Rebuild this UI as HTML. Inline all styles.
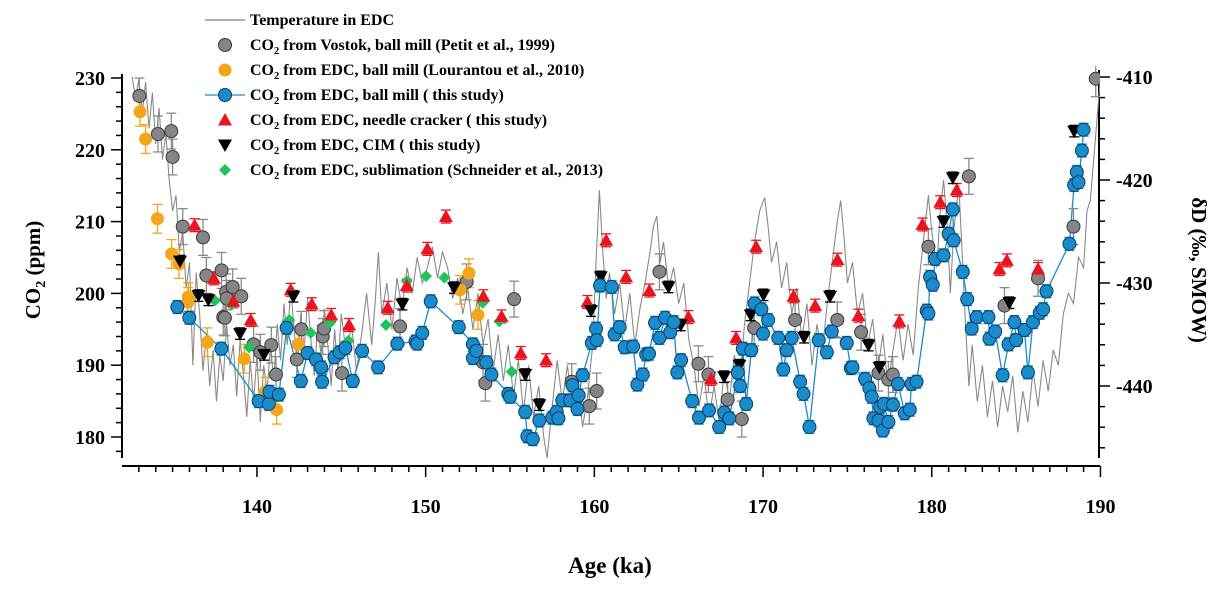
<!DOCTYPE html>
<html><head><meta charset="utf-8"><style>
html,body{margin:0;padding:0;background:#fff;}
svg{display:block;font-family:"Liberation Serif",serif;font-weight:bold;}
</style></head><body>
<svg id="chart" width="1228" height="589" viewBox="0 0 1228 589" xmlns="http://www.w3.org/2000/svg">
<defs><clipPath id="plotclip"><rect x="122" y="66" width="978" height="400"/></clipPath></defs>
<g id="axes"></g>
<g id="marks" clip-path="url(#plotclip)"></g>
<g id="legend"></g>
<text x="610" y="573" font-size="23" text-anchor="middle">Age (ka)</text>
<text transform="translate(40,270) rotate(-90)" font-size="21" text-anchor="middle">CO<tspan font-size="14" dy="5">2</tspan><tspan dy="-5"> (ppm)</tspan></text>
<text transform="translate(1192,270) rotate(90)" font-size="21" text-anchor="middle">δD (‰, SMOW)</text>
</svg>
<script>
const tempAge=[132.6,132.8,133.0,133.2,133.4,133.6,133.8,134.0,134.2,134.4,134.6,134.8,135.0,135.2,135.4,135.6,135.8,136.0,136.2,136.4,136.6,136.8,137.0,137.2,137.4,137.6,137.8,138.0,138.2,138.4,138.6,138.8,139.0,139.2,139.4,139.6,139.8,140.0,140.2,140.4,140.6,140.8,141.0,141.2,141.4,141.6,141.8,142.0,142.2,142.4,142.6,142.8,143.0,143.2,143.4,143.6,143.8,144.0,144.2,144.4,144.6,144.8,145.0,145.3,145.6,145.9,146.2,146.5,146.8,147.0,147.2,147.4,147.7,148.0,148.3,148.6,148.9,149.2,149.5,149.8,150.1,150.4,150.7,151.0,151.3,151.6,151.9,152.2,152.5,152.8,153.1,153.4,153.7,154.0,154.3,154.6,154.9,155.2,155.5,155.8,156.1,156.4,156.7,157.0,157.2,157.5,157.8,158.1,158.4,158.7,159.0,159.3,159.6,159.9,160.1,160.3,160.5,160.7,160.9,161.2,161.5,161.8,162.1,162.4,162.7,163.0,163.3,163.5,163.7,163.9,164.1,164.4,164.7,165.0,165.3,165.6,165.9,166.2,166.5,166.8,167.1,167.4,167.7,168.0,168.3,168.6,168.9,169.2,169.5,169.8,170.1,170.3,170.5,170.8,171.1,171.4,171.7,172.0,172.3,172.6,172.9,173.2,173.5,173.8,174.1,174.4,174.6,174.8,175.0,175.3,175.6,175.9,176.2,176.5,176.8,177.1,177.4,177.7,178.0,178.3,178.6,178.9,179.2,179.5,179.8,180.0,180.3,180.5,180.7,180.9,181.1,181.3,181.6,181.8,182.0,182.2,182.4,182.7,183.0,183.3,183.6,183.9,184.2,184.5,184.8,185.1,185.4,185.7,186.0,186.3,186.6,186.9,187.2,187.5,187.8,188.1,188.4,188.7,189.0,189.2,189.4,189.6,189.8,190.0];
const tempDD=[-410.0,-412.0,-410.2,-413.5,-410.5,-415.0,-411.5,-416.5,-413.0,-418.0,-415.5,-420.0,-423.0,-421.5,-427.0,-425.0,-430.5,-428.0,-438.0,-429.0,-433.0,-438.5,-435.0,-440.0,-436.5,-441.5,-437.0,-439.5,-434.0,-438.0,-436.0,-441.0,-435.5,-439.0,-443.0,-437.5,-441.5,-437.0,-443.5,-438.0,-440.5,-436.0,-439.5,-434.0,-437.5,-432.0,-436.0,-430.5,-434.5,-438.0,-433.0,-436.5,-431.5,-435.5,-439.0,-434.0,-437.0,-432.5,-436.0,-440.0,-434.5,-438.5,-433.0,-437.0,-434.0,-438.5,-435.0,-431.0,-436.0,-432.0,-427.0,-433.0,-430.0,-434.5,-429.5,-432.5,-428.5,-431.0,-427.5,-430.0,-428.5,-426.5,-429.5,-427.0,-428.5,-431.5,-429.5,-433.0,-430.5,-434.5,-431.0,-436.0,-433.5,-438.5,-435.0,-439.5,-436.0,-441.0,-437.5,-442.5,-438.0,-443.0,-440.0,-445.0,-447.0,-442.0,-437.5,-441.5,-438.0,-442.0,-439.5,-444.0,-441.0,-436.0,-428.0,-421.0,-427.0,-431.5,-429.0,-433.0,-430.0,-434.5,-431.0,-436.0,-432.5,-430.0,-427.0,-424.5,-423.5,-428.0,-426.0,-430.5,-428.5,-432.0,-430.0,-435.5,-438.0,-442.0,-439.0,-443.0,-440.0,-443.5,-438.5,-441.5,-437.0,-440.0,-434.0,-430.0,-426.0,-423.0,-421.7,-424.5,-428.0,-426.0,-430.5,-428.0,-433.0,-430.5,-435.5,-432.0,-438.0,-434.0,-437.0,-432.0,-428.0,-424.0,-422.0,-425.5,-430.0,-428.0,-433.0,-431.0,-436.0,-433.5,-438.5,-435.0,-440.0,-436.5,-433.5,-437.5,-434.0,-437.0,-430.5,-426.0,-421.5,-425.0,-428.5,-423.0,-420.0,-424.0,-431.0,-425.0,-420.5,-427.0,-434.0,-440.0,-436.0,-441.5,-438.0,-443.0,-439.5,-444.0,-440.0,-442.5,-439.0,-444.5,-440.5,-443.5,-438.5,-442.0,-437.5,-440.5,-436.5,-438.0,-433.0,-431.0,-432.0,-427.5,-428.5,-423.0,-422.0,-418.0,-414.0,-410.0];

const blueAge=[135.28,135.99,137.89,140.1,140.7,140.74,141.3,141.76,142.6,143.0,143.5,143.8,143.86,144.6,144.9,145.24,145.68,146.23,147.18,148.32,149.4,149.5,149.8,150.3,151.96,152.8,152.8,153.0,153.6,153.9,154.9,155.0,155.9,156.03,156.35,156.74,157.5,157.77,157.87,158.1,158.56,158.7,159.0,159.07,159.3,159.85,160.1,160.14,160.34,161.03,161.2,161.5,161.8,162.3,162.55,162.87,163.07,163.24,163.6,163.86,164.19,164.5,164.7,164.92,165.14,165.8,166.2,166.8,167.4,167.7,168.0,168.5,168.64,168.8,169.0,169.3,169.5,169.9,170.0,170.3,170.9,171.2,171.4,171.7,172.2,172.4,172.75,173.3,173.78,174.07,174.96,175.2,175.3,176.05,176.3,176.44,176.54,176.84,176.94,177.1,177.17,177.43,177.7,178.0,178.4,178.7,178.8,179.1,179.7,179.8,179.9,180.06,180.2,180.7,181.0,181.25,181.3,181.84,182.1,182.37,182.67,183.36,183.42,183.76,184.2,184.55,184.9,185.0,185.5,185.7,186.0,186.4,186.6,186.8,188.16,188.44,188.6,188.7,188.9,189.0];
const blueCO2=[198.1,196.6,192.3,185.0,184.6,186.3,185.9,195.2,187.8,191.7,190.8,189.7,187.7,191.1,191.8,192.4,187.8,192.0,189.7,193.0,193.3,193.0,194.5,198.9,195.3,192.9,191.0,192.0,190.4,188.7,186.0,185.6,183.5,180.1,179.7,182.3,182.7,183.5,182.6,185.1,185.1,187.2,183.9,185.8,188.6,193.1,195.1,193.5,201.1,200.9,194.3,195.3,192.5,192.6,187.3,188.7,191.5,191.6,195.9,193.8,196.6,194.6,196.0,189.0,190.7,185.0,182.7,183.7,181.4,183.4,182.6,189.0,187.1,192.3,184.6,192.1,198.6,197.8,194.4,196.3,193.8,189.4,192.1,193.8,187.7,186.0,181.4,193.5,191.8,194.7,193.1,189.6,189.7,188.1,186.8,185.6,182.6,182.3,184.2,180.9,184.6,182.1,184.5,187.4,183.3,183.8,187.4,187.7,197.6,197.2,202.3,201.2,204.8,205.3,208.3,211.7,207.4,203.0,199.2,195.1,196.7,196.7,193.7,194.7,188.6,192.9,196.0,193.5,194.9,189.0,196.0,197.3,197.8,200.3,206.9,215.1,216.9,215.5,219.9,222.8];

const greyAge=[133.03,134.13,134.92,135.0,135.6,136.8,137.0,137.9,138.17,138.2,138.56,139.07,138.0,138.1,139.8,140.2,140.85,141.13,142.36,142.63,143.9,143.98,145.04,148.48,152.43,153.54,153.4,155.24,158.66,159.7,160.14,163.86,166.17,166.76,167.9,168.74,169.47,171.9,174.4,175.81,176.84,177.43,177.69,179.8,182.2,184.31,186.3,188.4,189.72];
const greyCO2=[227.5,222.2,222.6,219.0,209.3,207.8,202.5,203.2,200.2,199.3,200.9,199.6,196.7,196.6,192.9,191.8,192.8,188.7,190.8,195.0,194.0,195.1,188.9,195.4,201.6,187.5,190.4,199.2,187.7,184.3,186.4,203.0,190.2,188.7,185.2,182.5,195.2,196.3,196.3,194.6,188.9,188.0,188.7,206.5,216.3,198.3,202.1,209.3,229.9];

const orangeAge=[133.07,133.4,134.1,134.94,135.38,135.93,135.9,137.06,139.25,140.5,141.17,142.45,152.04,152.57,153.1];
const orangeCO2=[225.3,221.5,210.4,205.5,204.1,199.5,198.8,193.2,190.9,186.3,183.8,192.9,200.5,202.8,197.0];

const redAge=[136.3,137.45,138.6,139.63,142.0,143.25,144.4,145.46,147.75,148.88,150.1,151.2,153.42,154.5,155.64,157.14,159.59,160.7,161.88,163.26,165.58,166.92,168.4,169.59,171.8,173.09,174.41,175.65,178.08,179.45,180.5,181.48,184.01,184.45,186.3];
const redCO2=[209.5,202.1,198.9,196.3,200.5,198.5,197.0,195.6,198.0,201.1,206.2,210.7,199.6,196.8,191.7,190.7,198.8,207.4,202.3,200.4,196.7,188.1,193.8,206.5,199.6,198.3,204.7,196.9,196.1,209.6,212.7,214.4,203.4,204.6,203.4];

const blackAge=[135.44,136.53,137.12,139.0,140.42,142.16,148.62,151.68,155.9,156.74,159.8,160.38,164.39,165.12,167.69,168.6,169.27,170.02,172.43,173.97,176.25,176.9,180.7,181.25,184.6,188.44];
const blackCO2=[204.5,199.7,199.1,194.4,191.5,199.6,198.5,200.8,188.7,184.5,197.6,202.3,200.9,195.6,188.4,190.0,197.0,199.8,193.9,199.6,192.8,189.7,210.0,216.1,198.7,222.6];

const greenAge=[137.5,138.5,139.53,141.92,143.19,144.33,145.42,147.65,148.88,150.02,151.11,153.38,154.37,155.1];
const greenCO2=[199.0,198.4,192.5,196.3,194.5,195.9,193.4,195.6,201.7,202.4,202.2,198.7,196.1,189.1];

const xTicks=[140,150,160,170,180,190];
const yTicksLeft=[180,190,200,210,220,230];
const yTicksRight=[-410,-420,-430,-440];

const NS='http://www.w3.org/2000/svg';
const X=a=>122+(a-132)*16.87;
const YL=v=>437-(v-180)*7.18;
const YR=v=>77+(-410-v)*10.3;
function mk(tag,attrs,parent){const e=document.createElementNS(NS,tag);for(const k in attrs)e.setAttribute(k,attrs[k]);parent.appendChild(e);return e;}
const axes=document.getElementById('axes'), marks=document.getElementById('marks'), legend=document.getElementById('legend');

let e;
e=mk('line',{x1:122,y1:466,x2:1100,y2:466,stroke:'#000','stroke-width':2},axes);
 
e=mk('line',{x1:122,y1:74,x2:122,y2:458,stroke:'#000','stroke-width':2},axes);
 
e=mk('line',{x1:1099,y1:70,x2:1099,y2:458,stroke:'#000','stroke-width':2},axes);
 
for(let a=133;a<=190;a++){const major=(a%10===0);mk('line',{x1:X(a),y1:466,x2:X(a),y2:466+(major?11:6),stroke:'#000','stroke-width':1.5},axes);}
xTicks.forEach(t=>{e=mk('text',{x:X(t),y:513,'font-size':20,'text-anchor':'middle'},axes);e.textContent=t;
 });
for(let v=178;v<=230;v+=2){const major=(v%10===0);mk('line',{x1:122,y1:YL(v),x2:122-(major?11:6),y2:YL(v),stroke:'#000','stroke-width':1.5},axes);}
yTicksLeft.forEach(t=>{e=mk('text',{x:105,y:YL(t)+7,'font-size':20,'text-anchor':'end'},axes);e.textContent=t;
 });
for(let v=-410;v>=-446;v-=2){const major=(v%10===0);mk('line',{x1:1099,y1:YR(v),x2:1099+(major?11:6),y2:YR(v),stroke:'#000','stroke-width':1.5},axes);}
yTicksRight.forEach(t=>{e=mk('text',{x:1116,y:YR(t)+7,'font-size':20,'text-anchor':'start'},axes);e.textContent=t;
 });

e=mk('polyline',{points:tempAge.map((a,i)=>X(a).toFixed(1)+','+YR(tempDD[i]).toFixed(1)).join(' '),fill:'none',stroke:'#8a8a8a','stroke-width':1.1},marks);
 

const order=blueAge.map((a,i)=>i).sort((p,q)=>blueAge[p]-blueAge[q]);
e=mk('polyline',{points:order.map(i=>X(blueAge[i]).toFixed(1)+','+YL(blueCO2[i]).toFixed(1)).join(' '),fill:'none',stroke:'#1a8ccc','stroke-width':1.3},marks);
 

function errbars(ages,vals,err,color,name){
  ages.forEach((a,i)=>{const x=X(a),y1=YL(vals[i]+err),y2=YL(vals[i]-err);
    const g=mk('g',{stroke:color,'stroke-width':1.3},marks);
     
    mk('line',{x1:x,y1:y1,x2:x,y2:y2},g);mk('line',{x1:x-5,y1:y1,x2:x+5,y2:y1},g);mk('line',{x1:x-5,y1:y2,x2:x+5,y2:y2},g);});
}
errbars(greyAge,greyCO2,2.5,'#8a8a8a','vostok-error-bar');
errbars(orangeAge,orangeCO2,2,'#f5a51a','lourantou-error-bar');
errbars(redAge,redCO2,0.9,'#e8141e','needle-error-bar');
errbars(blackAge,blackCO2,0.8,'#000','cim-error-bar');
errbars(blueAge,blueCO2,0.9,'#1a8ccc','ball-mill-error-bar');

function circle(x,y,fill,stroke,parent){return mk('circle',{cx:x,cy:y,r:6.5,fill:fill,stroke:stroke,'stroke-width':stroke==='none'?0:1},parent);}
function triUp(x,y,parent){return mk('polygon',{points:`${x},${y-7} ${x-7},${y+5.5} ${x+7},${y+5.5}`,fill:'#e8141e'},parent);}
function triDown(x,y,parent){return mk('polygon',{points:`${x-7},${y-5.5} ${x+7},${y-5.5} ${x},${y+7}`,fill:'#000'},parent);}
function diamond(x,y,parent){return mk('polygon',{points:`${x},${y-6} ${x+6},${y} ${x},${y+6} ${x-6},${y}`,fill:'#1ec35a'},parent);}

greyAge.forEach((a,i)=>{e=circle(X(a),YL(greyCO2[i]),'#858585','#3a3a3a',marks);
 });
orangeAge.forEach((a,i)=>{e=circle(X(a),YL(orangeCO2[i]),'#f5a51a','none',marks);
 });
greenAge.forEach((a,i)=>{e=diamond(X(a),YL(greenCO2[i]),marks);
 });
redAge.forEach((a,i)=>{e=triUp(X(a),YL(redCO2[i]),marks);
 });
blackAge.forEach((a,i)=>{e=triDown(X(a),YL(blackCO2[i]),marks);
 });
blueAge.forEach((a,i)=>{e=circle(X(a),YL(blueCO2[i]),'#1a8ccc','#0a3f66',marks);
 });

const rows=[
 ['line','Temperature in EDC',''],
 ['grey',' from Vostok, ball mill (Petit et al., 1999)'],
 ['orange',' from EDC, ball mill (Lourantou et al., 2010)'],
 ['blue',' from EDC, ball mill ( this study)'],
 ['red',' from EDC, needle cracker ( this study)'],
 ['black',' from EDC, CIM ( this study)'],
 ['green',' from EDC,  sublimation (Schneider et al., 2013)']
];
const legendNames=['legend-temperature','legend-vostok','legend-lourantou','legend-ball-mill','legend-needle-cracker','legend-cim','legend-sublimation'];
rows.forEach((r,i)=>{
  const y=20+i*25;
  const g=mk('g',{},legend);
   
  const cx=225;
  if(r[0]==='line'){mk('line',{x1:205,y1:y,x2:245,y2:y,stroke:'#808080','stroke-width':1.3},g);}
  else if(r[0]==='grey'){circle(cx,y,'#858585','#3a3a3a',g);}
  else if(r[0]==='orange'){circle(cx,y,'#f5a51a','none',g);}
  else if(r[0]==='blue'){mk('line',{x1:205,y1:y,x2:245,y2:y,stroke:'#1a8ccc','stroke-width':1.3},g);circle(cx,y,'#1a8ccc','#0a3f66',g);}
  else if(r[0]==='red'){triUp(cx,y,g);}
  else if(r[0]==='black'){triDown(cx,y,g);}
  else if(r[0]==='green'){diamond(cx,y,g);}
  const t=mk('text',{x:250,y:y+5,'font-size':16},g);
  if(r[0]==='line'){t.textContent=r[1];}
  else{mk('tspan',{},t).textContent='CO';const s=mk('tspan',{'font-size':10.5,dy:4},t);s.textContent='2';mk('tspan',{dy:-4},t).textContent=r[1];}
});
</script>
</body></html>
